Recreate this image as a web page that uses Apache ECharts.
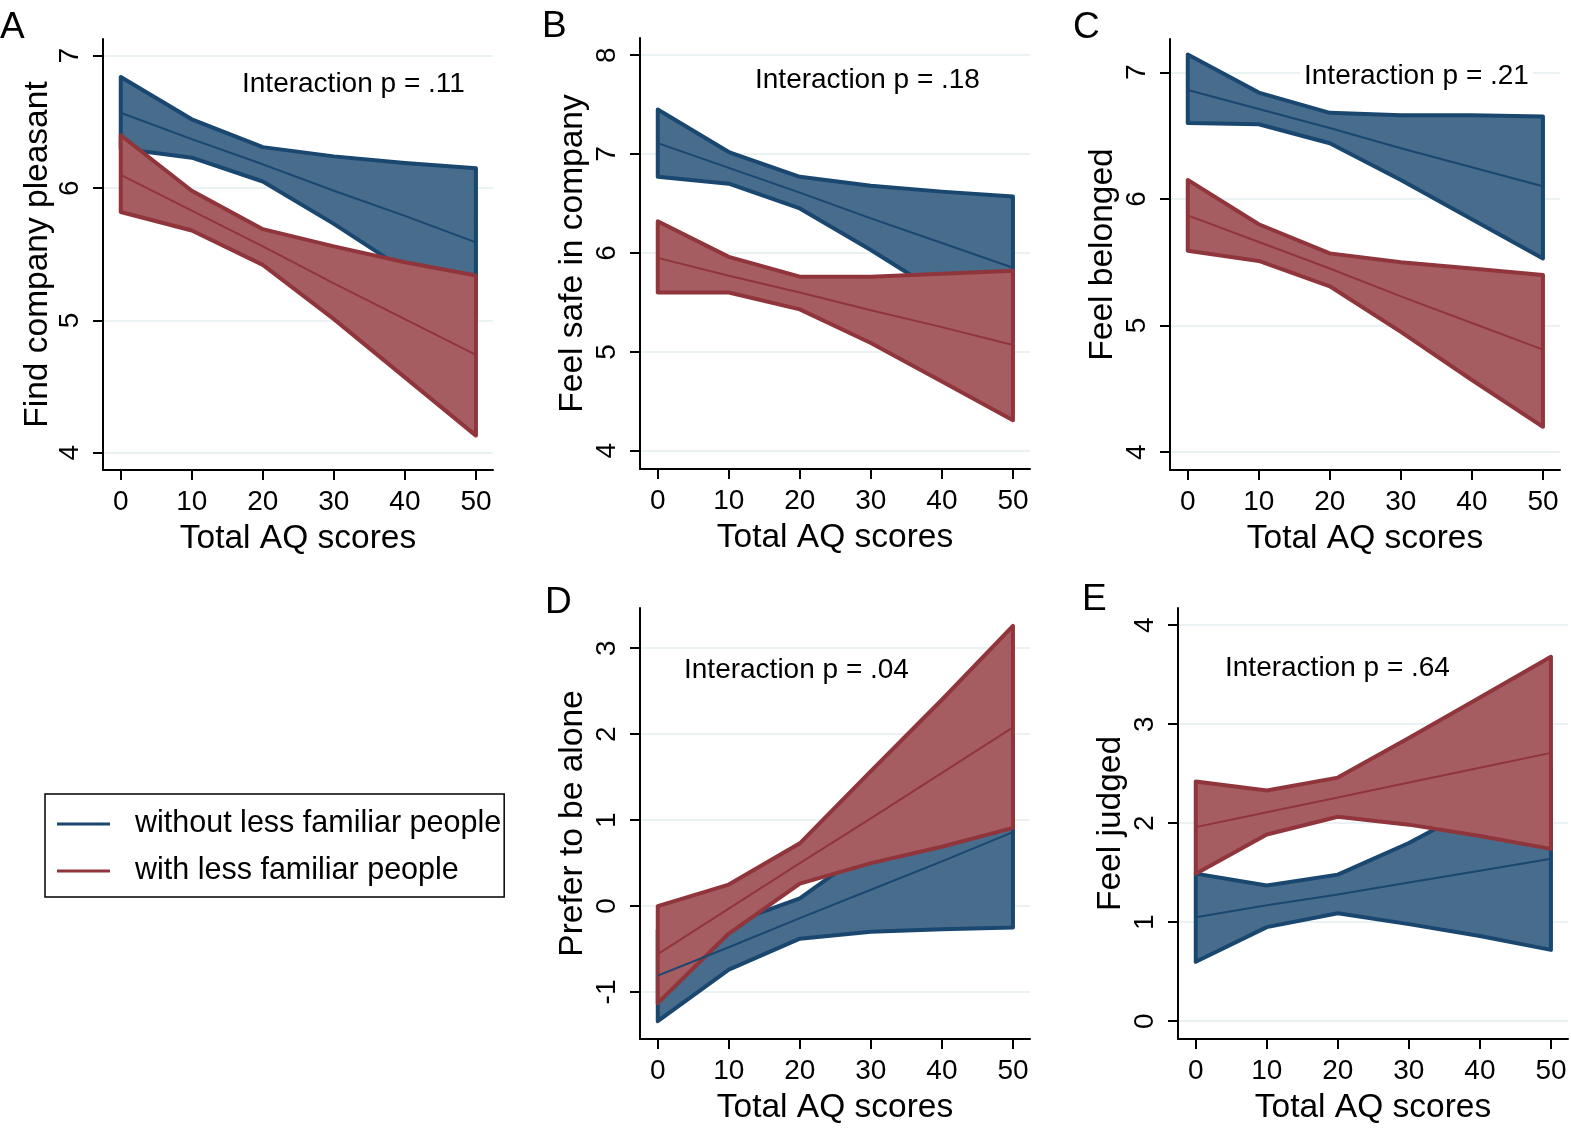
<!DOCTYPE html>
<html>
<head>
<meta charset="utf-8">
<title>AQ scores and feelings in company</title>
<script src="https://cdn.jsdelivr.net/npm/echarts@6/dist/echarts.min.js"></script>
<style>
  html, body { margin: 0; padding: 0; background: #fff; }
  #mainChart { width: 1571px; height: 1129px; }
</style>
</head>
<body>
<div id="mainChart"></div>
<script>
// x values where the margins were computed
var aq = [0, 10, 20, 30, 40, 50];
var aqTicks = [0, 10, 20, 30, 40, 50];

// A: find company pleasant
var pleasantTicks = [4, 5, 6, 7];
var pleasantWithoutFit = [6.57, 6.37, 6.18, 5.98, 5.79, 5.59];
var pleasantWithoutLo = [6.30, 6.23, 6.05, 5.73, 5.38, 5.03];
var pleasantWithoutHi = [6.84, 6.52, 6.31, 6.24, 6.19, 6.15];
var pleasantWithFit = [6.10, 5.83, 5.56, 5.28, 5.01, 4.74];
var pleasantWithLo = [5.82, 5.68, 5.42, 5.01, 4.57, 4.13];
var pleasantWithHi = [6.40, 5.98, 5.69, 5.56, 5.44, 5.34];

// B: feel safe in company
var safeTicks = [4, 5, 6, 7, 8];
var safeWithoutFit = [7.11, 6.86, 6.61, 6.35, 6.10, 5.85];
var safeWithoutLo = [6.77, 6.70, 6.45, 6.03, 5.58, 5.13];
var safeWithoutHi = [7.45, 7.02, 6.77, 6.68, 6.62, 6.57];
var safeWithFit = [5.95, 5.77, 5.60, 5.42, 5.25, 5.07];
var safeWithLo = [5.60, 5.60, 5.43, 5.09, 4.70, 4.31];
var safeWithHi = [6.32, 5.96, 5.76, 5.76, 5.79, 5.82];

// C: feel belonged
var belongedTicks = [4, 5, 6, 7];
var belongedWithoutFit = [6.86, 6.71, 6.56, 6.40, 6.25, 6.10];
var belongedWithoutLo = [6.60, 6.59, 6.44, 6.15, 5.84, 5.53];
var belongedWithoutHi = [7.14, 6.84, 6.68, 6.66, 6.66, 6.65];
var belongedWithFit = [5.87, 5.66, 5.45, 5.23, 5.02, 4.81];
var belongedWithLo = [5.59, 5.51, 5.31, 4.95, 4.57, 4.20];
var belongedWithHi = [6.15, 5.80, 5.57, 5.50, 5.45, 5.40];

// D: prefer to be alone
var aloneTicks = [-1, 0, 1, 2, 3];
var aloneWithoutFit = [-0.81, -0.48, -0.14, 0.19, 0.52, 0.86];
var aloneWithoutLo = [-1.34, -0.74, -0.38, -0.30, -0.27, -0.25];
var aloneWithoutHi = [-0.28, -0.21, 0.09, 0.68, 1.32, 1.96];
var aloneWithFit = [-0.56, -0.03, 0.50, 1.02, 1.55, 2.08];
var aloneWithLo = [-1.13, -0.32, 0.26, 0.50, 0.69, 0.91];
var aloneWithHi = [0.00, 0.25, 0.73, 1.57, 2.40, 3.26];

// E: feel judged
var judgedTicks = [0, 1, 2, 3, 4];
var judgedWithoutFit = [1.05, 1.17, 1.28, 1.40, 1.52, 1.64];
var judgedWithoutLo = [0.60, 0.95, 1.09, 0.98, 0.86, 0.72];
var judgedWithoutHi = [1.49, 1.37, 1.48, 1.80, 2.18, 2.56];
var judgedWithFit = [1.96, 2.11, 2.26, 2.41, 2.56, 2.71];
var judgedWithLo = [1.49, 1.885, 2.065, 1.985, 1.87, 1.74];
var judgedWithHi = [2.42, 2.33, 2.46, 2.86, 3.27, 3.68];

var withoutName = 'without less familiar people';
var withName = 'with less familiar people';

var navy = '#1a476f', navyFill = '#486c8c';
var maroon = '#90353b', maroonFill = '#a65d62';
var font = '"Liberation Sans", Arial, sans-serif';

var panels = [
  { letter: 'A', title: 'Find company pleasant', note: 'Interaction p = .11', ticks: pleasantTicks,
    ymin: 3.87, ymax: 7.127, box: [103, 39], nameGap: 47, noteAt: [238, 84], letterAt: [0, 28],
    wo: [pleasantWithoutLo, pleasantWithoutHi, pleasantWithoutFit], wi: [pleasantWithLo, pleasantWithHi, pleasantWithFit] },
  { letter: 'B', title: 'Feel safe in company', note: 'Interaction p = .18', ticks: safeTicks,
    ymin: 3.816, ymax: 8.173, box: [640, 38], nameGap: 50, noteAt: [751, 80], letterAt: [542, 27],
    wo: [safeWithoutLo, safeWithoutHi, safeWithoutFit], wi: [safeWithLo, safeWithHi, safeWithFit] },
  { letter: 'C', title: 'Feel belonged', note: 'Interaction p = .21', ticks: belongedTicks,
    ymin: 3.859, ymax: 7.263, box: [1170, 39], nameGap: 50, noteAt: [1300, 76], letterAt: [1073, 28],
    wo: [belongedWithoutLo, belongedWithoutHi, belongedWithoutFit], wi: [belongedWithLo, belongedWithHi, belongedWithFit] },
  { letter: 'D', title: 'Prefer to be alone', note: 'Interaction p = .04', ticks: aloneTicks,
    ymin: -1.547, ymax: 3.468, box: [640, 608], nameGap: 50, noteAt: [680, 670], letterAt: [545, 603],
    wo: [aloneWithoutLo, aloneWithoutHi, aloneWithoutFit], wi: [aloneWithLo, aloneWithHi, aloneWithFit] },
  { letter: 'E', title: 'Feel judged', note: 'Interaction p = .64', ticks: judgedTicks,
    ymin: -0.18, ymax: 4.173, box: [1178, 608], nameGap: 50, noteAt: [1221, 668], letterAt: [1082, 600],
    wo: [judgedWithoutLo, judgedWithoutHi, judgedWithoutFit], wi: [judgedWithLo, judgedWithHi, judgedWithFit] }
];

// confidence band as one closed polygon (upper limits, then lower limits backwards)
function band(idx, lo, hi, fill, edge, z) {
  return {
    type: 'custom',
    xAxisIndex: idx,
    yAxisIndex: idx,
    silent: true,
    z: z,
    data: [[aq[0], lo[0]]],
    renderItem: function (params, api) {
      var pts = [];
      for (var i = 0; i < aq.length; i++) pts.push(api.coord([aq[i], hi[i]]));
      for (var j = aq.length - 1; j >= 0; j--) pts.push(api.coord([aq[j], lo[j]]));
      return {
        type: 'polygon',
        shape: { points: pts },
        style: { fill: fill, stroke: edge, lineWidth: 4, lineJoin: 'round' }
      };
    }
  };
}

function fitLine(idx, name, fit, color) {
  return {
    type: 'line',
    name: name,
    xAxisIndex: idx,
    yAxisIndex: idx,
    silent: true,
    z: 6,
    symbol: 'none',
    data: aq.map(function (x, k) { return [x, fit[k]]; }),
    lineStyle: { color: color, width: 2 },
    itemStyle: { color: color }
  };
}

var grids = [], xAxes = [], yAxes = [], series = [], texts = [];
panels.forEach(function (p, i) {
  grids.push({ left: p.box[0], top: p.box[1], width: 390, height: 431, outerBoundsMode: 'none', containLabel: false });
  xAxes.push({
    gridIndex: i, type: 'value', min: -2.5, max: 52.4,
    name: 'Total AQ scores', nameLocation: 'middle', nameGap: 52,
    nameTextStyle: { fontSize: 33.5, color: '#000', fontFamily: font },
    axisLine: { show: true, onZero: false, lineStyle: { color: '#000', width: 2 } },
    axisTick: { show: true, length: 10, customValues: aqTicks, lineStyle: { color: '#000', width: 2 } },
    axisLabel: { customValues: aqTicks, fontSize: 28, color: '#000', margin: 18, fontFamily: font },
    splitLine: { show: false }
  });
  yAxes.push({
    gridIndex: i, type: 'value', min: p.ymin, max: p.ymax,
    name: p.title, nameLocation: 'middle', nameGap: p.nameGap,
    nameTextStyle: { fontSize: 33.5, color: '#000', fontFamily: font },
    axisLine: { show: true, onZero: false, lineStyle: { color: '#000', width: 2 } },
    axisTick: { show: true, length: 10, customValues: p.ticks, lineStyle: { color: '#000', width: 2 } },
    axisLabel: { customValues: p.ticks, rotate: 90, fontSize: 28, color: '#000', margin: 19, fontFamily: font },
    splitLine: { show: true, lineStyle: { color: '#eaf2f3', width: 2 } }
  });
  series.push(band(i, p.wo[0], p.wo[1], navyFill, navy, 2));
  series.push(band(i, p.wi[0], p.wi[1], maroonFill, maroon, 3));
  series.push(fitLine(i, withoutName, p.wo[2], navy));
  series.push(fitLine(i, withName, p.wi[2], maroon));
  texts.push({
    type: 'text', x: p.letterAt[0], y: p.letterAt[1], z: 100,
    style: { text: p.letter, font: '37px ' + font, fill: '#000', align: 'left', verticalAlign: 'middle' }
  });
  // the note sits on a white box, so the grid line stops around it
  texts.push({
    type: 'text', x: p.noteAt[0], y: p.noteAt[1], z: 100,
    style: {
      text: p.note, font: '28px ' + font, fill: '#000', align: 'left', verticalAlign: 'middle',
      backgroundColor: '#fff', padding: [2, 4, 2, 4]
    }
  });
});

var chart = echarts.init(document.getElementById('mainChart'));
var option = {
  backgroundColor: '#fff',
  animation: false,
  textStyle: { fontFamily: font },
  grid: grids,
  xAxis: xAxes,
  yAxis: yAxes,
  legend: {
    data: [withoutName, withName],
    orient: 'vertical',
    left: 45,
    top: 794,
    padding: [12, 3, 8, 12],
    itemGap: 11,
    itemWidth: 53,
    itemHeight: 3,
    icon: 'rect',
    selectedMode: false,
    borderColor: '#000',
    borderWidth: 1.5,
    textStyle: { fontSize: 30.5, color: '#000', fontFamily: font, lineHeight: 36, padding: [0, 0, 0, 20] }
  },
  graphic: texts,
  series: series
};
chart.setOption(option);
</script>
</body>
</html>
